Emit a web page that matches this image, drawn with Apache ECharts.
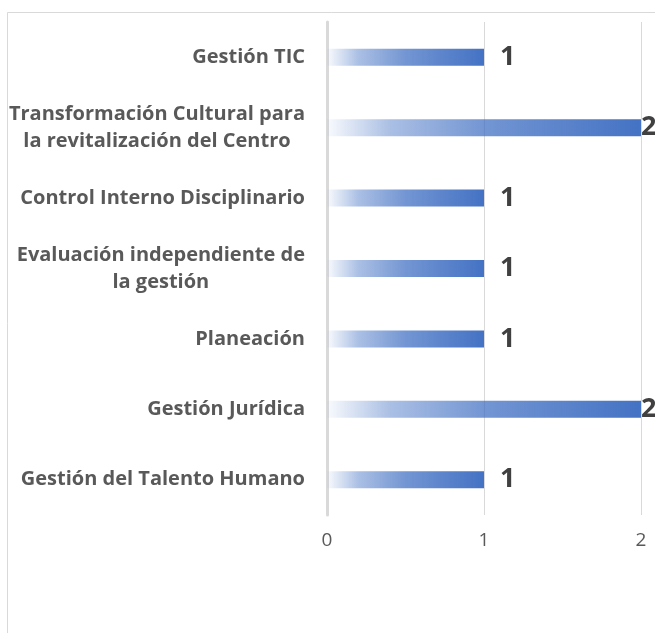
<!DOCTYPE html>
<html><head><meta charset="utf-8">
<script src="https://cdn.jsdelivr.net/npm/echarts@6/dist/echarts.min.js"></script>
<style>html,body{margin:0;padding:0;background:#fff}#c{width:655px;height:633px}</style>
</head><body><div id="c"></div>
<script>
const categories = [
  "Gestión TIC",
  "Transformación Cultural para\nla revitalización del Centro",
  "Control Interno Disciplinario",
  "Evaluación independiente de\nla gestión",
  "Planeación",
  "Gestión Jurídica",
  "Gestión del Talento Humano"
];
const values = [1, 2, 1, 1, 1, 2, 1];
const xTicks = [0, 1, 2];
const xMax = xTicks[xTicks.length - 1];

const chart = echarts.init(document.getElementById('c'));
chart.setOption({
  animation: false,
  graphic: [{
    type: 'rect', shape: {x: 7.5, y: 12.5, width: 700, height: 700},
    style: {fill: 'none', stroke: '#d9d9d9', lineWidth: 1}, silent: true
  }],
  grid: {left: 327, right: 14, top: 22, bottom: 118, containLabel: false},
  xAxis: {
    type: 'value', min: xTicks[0], max: xMax, interval: 1,
    axisLine: {show: false}, axisTick: {show: false},
    splitLine: {lineStyle: {color: '#d9d9d9', width: 1}},
    axisLabel: {color: '#595959', fontSize: 19, fontFamily: 'Open Sans', margin: 16}
  },
  yAxis: {
    type: 'category', data: categories, inverse: true,
    axisLine: {show: true, lineStyle: {color: '#d9d9d9', width: 3}},
    axisTick: {show: false},
    axisLabel: {
      margin: 22,
      formatter: v => v.split('\n').map(s => '{a|' + s + '}').join('\n'),
      rich: {a: {align: 'center', color: '#595959', fontSize: 20, fontWeight: 'bold', fontFamily: 'Open Sans', lineHeight: 27}}
    }
  },
  series: [{
    type: 'bar',
    data: values.map(v => ({value: v, label: {distance: v >= xMax ? 0 : 16}})),
    barWidth: 17,
    itemStyle: {
      color: new echarts.graphic.LinearGradient(0, 0, 1, 0, [
        {offset: 0, color: 'rgba(68,114,196,0.03)'},
        {offset: 0.2, color: 'rgba(68,114,196,0.45)'},
        {offset: 0.5, color: 'rgba(68,114,196,0.75)'},
        {offset: 1, color: 'rgba(68,114,196,1)'}
      ])
    },
    label: {show: true, position: 'right', distance: 16, color: '#404040',
      fontSize: 27, fontWeight: 'bold', fontFamily: 'Open Sans'}
  }]
});
</script></body></html>
